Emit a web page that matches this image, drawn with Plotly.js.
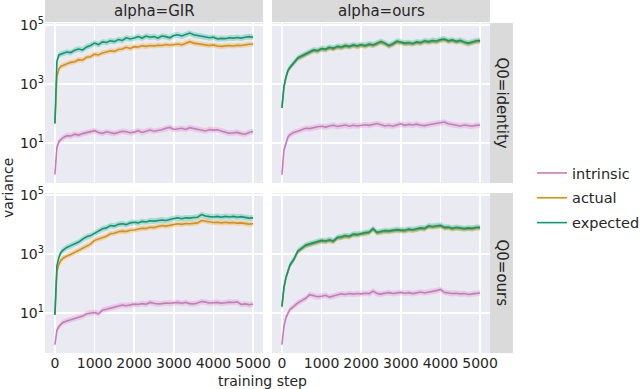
<!DOCTYPE html>
<html>
<head>
<meta charset="utf-8">
<script src="https://cdn.plot.ly/plotly-3.0.1.min.js"></script>
<style>
  html, body { margin: 0; padding: 0; background: #fff; }
  #chart { width: 640px; height: 389px; }
</style>
</head>
<body>
<div id="chart"></div>
<script>
// training steps at which the curves were sampled
const steps = [0, 25, 50, 100, 150, 200, 300, 400, 500, 600, 700, 800, 900, 1000, 1100, 1200, 1300, 1400, 1500, 1600,
    1700, 1800, 1900, 2000, 2100, 2200, 2300, 2400, 2500, 2600, 2700, 2800, 2900, 3000, 3100, 3200, 3300, 3400, 3500, 3600,
    3700, 3800, 3900, 4000, 4100, 4200, 4300, 4400, 4500, 4600, 4700, 4800, 4900, 5000];

// alpha=GIR, Q0=identity
const girIdentityIntrinsic = [0.87, 3.5, 7.1, 11.2, 13.2, 15.1, 17.8, 17.4, 20, 18.6,
    20.9, 22.4, 24, 26.3, 22.9, 21.4, 24, 22.4, 20.9, 22.9,
    25.1, 24, 22.4, 23.4, 26.3, 22.9, 24.5, 27.5, 25.1, 26.3,
    28.2, 31.6, 33.9, 28.8, 30.2, 31.6, 28.8, 33.1, 30.9, 29.5,
    26.9, 25.7, 28.8, 27.5, 28.2, 25.1, 23.4, 21.4, 22.4, 22.9,
    20.9, 20, 22.9, 24.5];
const girIdentityActual = [46, 794, 1780, 3160, 3980, 4170, 4790, 5370, 5620, 6610,
    6310, 7940, 8320, 10200, 9550, 11200, 12000, 13200, 12600, 14500,
    15100, 17400, 15800, 18200, 17800, 19500, 18600, 20000, 19100, 20400,
    20000, 21400, 20400, 21900, 22400, 20900, 24000, 26900, 24000, 22900,
    21400, 20400, 20000, 20900, 19100, 18600, 19500, 20000, 19100, 20400,
    20000, 21400, 21900, 22400];
const girIdentityExpected = [46, 2000, 5750, 9550, 10000, 10700, 12000, 11500, 13800, 15100,
    14100, 17800, 20000, 24000, 21400, 26300, 25100, 28800, 26900, 31600,
    29500, 36300, 33100, 35500, 39800, 35500, 41700, 38000, 39800, 35500,
    41700, 39800, 36300, 43600, 45700, 41700, 46800, 52500, 45700, 43600,
    41700, 39800, 36300, 38000, 33100, 34700, 33900, 36300, 35500, 37200,
    35500, 38000, 39800, 38000];

// alpha=ours, Q0=identity
const oursIdentityIntrinsic = [0.85, 2.5, 5.6, 9.5, 15.8, 19.1, 22.9, 25.1, 28.8, 31.6,
    30.9, 33.9, 35.5, 37.2, 34.7, 38, 39.8, 36.3, 38.9, 40.7,
    37.2, 39.8, 38, 38.9, 41.7, 39.8, 42.7, 45.7, 41.7, 38,
    39.8, 37.2, 40.7, 44.7, 39.8, 42.7, 40.7, 43.7, 39.8, 38.9,
    41.7, 43.7, 45.7, 49, 51.3, 44.7, 42.7, 39.8, 38, 40.7,
    39.8, 37.2, 39.8, 40.7];
const oursIdentityActual = [155, 390, 760, 1580, 2690, 3470, 4900, 7080, 8320, 9770,
    11000, 13200, 12600, 14800, 14100, 16200, 15100, 17400, 16600, 18600,
    17400, 19500, 18200, 20000, 18600, 20900, 19500, 22400, 25100, 22400,
    18600, 21400, 25700, 24500, 22400, 23400, 21900, 24500, 23400, 26900,
    25100, 27500, 26300, 29500, 30900, 26900, 28800, 25700, 27500, 24500,
    22400, 24500, 26900, 27500];
const oursIdentityExpected = [155, 400, 794, 1660, 2820, 3630, 5250, 7590, 8910, 10500,
    12000, 14100, 13500, 15800, 15100, 17400, 16200, 18600, 17800, 20000,
    18600, 20900, 19500, 21400, 20000, 22400, 20900, 24000, 27500, 24000,
    20000, 22900, 28200, 26300, 24000, 25100, 23400, 26300, 25100, 28800,
    26900, 29500, 28200, 31600, 33100, 28800, 30900, 27500, 29500, 26300,
    24000, 26300, 28800, 29500];

// alpha=GIR, Q0=ours
const girOursIntrinsic = [0.85, 2.0, 2.6, 3.5, 4.2, 4.8, 5.4, 5.9, 6.6, 7.2,
    7.9, 9.5, 10, 10.5, 9.5, 12.6, 13.5, 14.5, 15.8, 17.4,
    18.6, 17.8, 19.1, 20, 19.5, 20.9, 20, 22.9, 21.4, 20.4,
    20.9, 21.9, 21.4, 22.4, 22.9, 21.4, 22.9, 20.9, 20.4, 21.9,
    24.5, 23.4, 21.9, 22.4, 22.9, 21.4, 22.4, 23.4, 22.9, 24,
    19.5, 20.4, 19.1, 20.4];
const girOursActual = [8.7, 79, 251, 447, 603, 708, 851, 955, 1120, 1320,
    1580, 1860, 2140, 2880, 3160, 3630, 3980, 4790, 5010, 5620,
    5890, 5750, 6310, 6460, 6920, 7410, 7240, 7940, 7760, 8510,
    9120, 8710, 9330, 10000, 10500, 10000, 10700, 10500, 11000, 11200,
    13500, 12600, 11700, 11500, 11700, 11200, 11700, 11200, 11500, 11000,
    11200, 10700, 10200, 10500];
const girOursExpected = [8.7, 158, 398, 759, 1120, 1320, 1660, 1910, 2240, 2510,
    3160, 3800, 4170, 5010, 5750, 7080, 7590, 9120, 8710, 10000,
    10500, 9770, 11200, 11700, 11200, 12600, 12000, 13200, 12900, 13800,
    14100, 13500, 14800, 15800, 16600, 15500, 16600, 16200, 17000, 17400,
    21400, 19100, 18200, 17800, 18600, 17400, 18600, 17800, 18600, 17400,
    18200, 17400, 16200, 16600];

// alpha=ours, Q0=ours
const oursOursIntrinsic = [0.85, 2.0, 3.5, 7.0, 10, 13.2, 17, 22, 26.3, 31.6,
    41.7, 38, 35.5, 37.2, 39.8, 34.7, 37.2, 41.7, 44.7, 42.7,
    45.7, 43.7, 45.7, 44.7, 46.8, 45.7, 55, 45.7, 43.7, 46.8,
    49, 45.7, 47.9, 50.1, 46.8, 49, 45.7, 47.9, 51.3, 47.9,
    50.1, 53.7, 57.5, 63.1, 50.1, 47.9, 45.7, 46.8, 44.7, 45.7,
    42.7, 44.7, 46.8, 47.9];
const oursOursActual = [16.6, 35.5, 70.8, 151, 269, 398, 631, 1180, 1480, 1860,
    2040, 2240, 2450, 2690, 2570, 2820, 2570, 3390, 3550, 3890,
    3720, 4370, 4270, 4680, 4900, 5130, 6760, 5010, 5370, 5750,
    5620, 5890, 6170, 6030, 5890, 6460, 6170, 6610, 7080, 6920,
    8320, 7940, 8130, 8710, 7410, 7590, 6920, 7410, 7080, 6760,
    7080, 6920, 7410, 7410];
const oursOursExpected = [16.6, 35.5, 70.8, 158, 282, 417, 661, 1260, 1580, 2000,
    2190, 2400, 2630, 2880, 2750, 3020, 2750, 3630, 3800, 4170,
    3980, 4680, 4570, 5010, 5250, 5500, 7240, 5370, 5750, 6170,
    6030, 6310, 6610, 6460, 6310, 6920, 6610, 7080, 7590, 7410,
    8910, 8510, 8710, 9330, 7940, 8130, 7410, 7940, 7590, 7240,
    7590, 7410, 7940, 7940];

// width of the shaded confidence band (multiplicative, log axis)
const bandSpread = [1.25, 1.22, 1.25];

const seriesNames = ["intrinsic", "actual", "expected"];
const colAlpha = ["alpha=GIR", "alpha=ours"];
const rowQ0 = ["Q0=identity", "Q0=ours"];
const yTickVals = [10, 1000, 100000];
const yTickText = ["10<sup>1</sup>", "10<sup>3</sup>", "10<sup>5</sup>"];
const xTickVals = [0, 1000, 2000, 3000, 4000, 5000];

const colors = ["#cc78bc", "#de8f05", "#029e73"];
const fills = ["rgba(204,120,188,0.25)", "rgba(222,143,5,0.25)", "rgba(2,158,115,0.25)"];

const panels = [
    { xa: "x", ya: "y", data: [girIdentityIntrinsic, girIdentityActual, girIdentityExpected] },
    { xa: "x2", ya: "y2", data: [oursIdentityIntrinsic, oursIdentityActual, oursIdentityExpected] },
    { xa: "x3", ya: "y3", data: [girOursIntrinsic, girOursActual, girOursExpected] },
    { xa: "x4", ya: "y4", data: [oursOursIntrinsic, oursOursActual, oursOursExpected] }
];

const traces = [];
panels.forEach((p, pi) => {
    p.data.forEach((vals, si) => {
        const f = bandSpread[si];
        traces.push({
            x: steps, y: vals.map(v => v * f), xaxis: p.xa, yaxis: p.ya,
            mode: "lines", line: { width: 0, color: colors[si] },
            showlegend: false, hoverinfo: "skip", type: "scatter"
        });
        traces.push({
            x: steps, y: vals.map(v => v / f), xaxis: p.xa, yaxis: p.ya,
            mode: "lines", line: { width: 0, color: colors[si] },
            fill: "tonexty", fillcolor: fills[si],
            showlegend: false, hoverinfo: "skip", type: "scatter"
        });
        traces.push({
            x: steps, y: vals, xaxis: p.xa, yaxis: p.ya,
            mode: "lines", line: { width: 1.6, color: colors[si] },
            name: seriesNames[si], legendgroup: seriesNames[si],
            showlegend: pi === 0, type: "scatter"
        });
    });
});

// pixel geometry of the 640x389 figure
const W = 640, H = 389;
const colX = [[45, 263], [272, 490]];
const rowY = [[23, 183], [193, 353]];
const px = v => v / W;
const py = v => 1 - v / H;

function xAxis(col, row) {
    return {
        domain: [px(colX[col][0]), px(colX[col][1])],
        anchor: ["y", "y2", "y3", "y4"][row * 2 + col],
        range: [-250, 5250],
        tickvals: xTickVals,
        showticklabels: row === 1,
        ticks: "", tickangle: 0,
        showgrid: true, gridcolor: "#ffffff", gridwidth: 1.6,
        zeroline: false, showline: false,
        tickfont: { size: 14 }
    };
}
function yAxis(col, row) {
    return {
        domain: [py(rowY[row][1]), py(rowY[row][0])],
        anchor: ["x", "x2", "x3", "x4"][row * 2 + col],
        type: "log",
        range: [-0.35, 5.06],
        tickvals: yTickVals,
        ticktext: yTickText,
        showticklabels: col === 0,
        ticks: "",
        showgrid: true, gridcolor: "#ffffff", gridwidth: 1.6,
        zeroline: false, showline: false,
        tickfont: { size: 14 }
    };
}

const shapes = [];
const annotations = [];
colX.forEach((c, i) => {
    shapes.push({ type: "rect", xref: "paper", yref: "paper", x0: px(c[0]), x1: px(c[1]), y0: py(22), y1: 1,
        fillcolor: "#dadada", line: { width: 0 } });
    annotations.push({ text: colAlpha[i], xref: "paper", yref: "paper", x: px((c[0] + c[1]) / 2), y: py(11),
        showarrow: false, xanchor: "center", yanchor: "middle", font: { size: 15 } });
});
rowY.forEach((r, i) => {
    shapes.push({ type: "rect", xref: "paper", yref: "paper", x0: px(490), x1: px(513), y0: py(r[1]), y1: py(r[0]),
        fillcolor: "#dadada", line: { width: 0 } });
    annotations.push({ text: rowQ0[i], xref: "paper", yref: "paper", x: px(501.5), y: py((r[0] + r[1]) / 2),
        showarrow: false, textangle: 90, xanchor: "center", yanchor: "middle", font: { size: 15 } });
});
annotations.push({ text: "variance", xref: "paper", yref: "paper", x: px(8), y: py(188),
    showarrow: false, textangle: -90, xanchor: "center", yanchor: "middle", font: { size: 14 } });
annotations.push({ text: "training step", xref: "paper", yref: "paper", x: px(262), y: py(381),
    showarrow: false, xanchor: "center", yanchor: "middle", font: { size: 14 } });

const layout = {
    width: W, height: H,
    margin: { l: 0, r: 0, t: 0, b: 0, autoexpand: false },
    paper_bgcolor: "#ffffff",
    plot_bgcolor: "#eaeaf2",
    font: { family: "DejaVu Sans", color: "#262626" },
    showlegend: true,
    legend: {
        x: px(532), y: py(157), xanchor: "left", yanchor: "top",
        traceorder: "grouped", tracegroupgap: 3,
        bgcolor: "rgba(0,0,0,0)", font: { size: 14.5 }
    },
    xaxis: xAxis(0, 0), yaxis: yAxis(0, 0),
    xaxis2: xAxis(1, 0), yaxis2: yAxis(1, 0),
    xaxis3: xAxis(0, 1), yaxis3: yAxis(0, 1),
    xaxis4: xAxis(1, 1), yaxis4: yAxis(1, 1),
    shapes: shapes,
    annotations: annotations
};

Plotly.newPlot("chart", traces, layout, { displayModeBar: false, staticPlot: true });
</script>
</body>
</html>
